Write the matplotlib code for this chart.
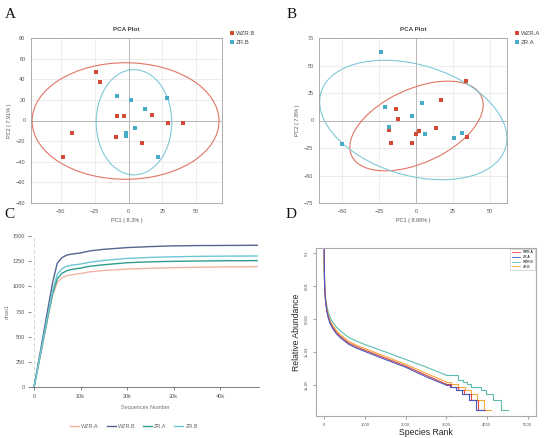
import matplotlib
matplotlib.use("Agg")
import matplotlib.pyplot as plt
from matplotlib.patches import Ellipse
from matplotlib.lines import Line2D

plt.rcParams['font.family'] = ['Liberation Sans', 'DejaVu Sans']

# ---------------- Data ----------------
# Panel A (PCA, group B)
a_wzr_x = [-23.8, -20.8, -41.8, -48.3, -8.7, -3.5, -9.2, 10.1, 17.3, 29.0, 39.9]
a_wzr_y = [47.3, 37.0, -12.6, -35.4, 4.5, 3.9, -16.1, -22.2, 5.8, -2.3, -2.3]
a_zr_x = [-8.2, 1.5, 28.2, 12.4, 4.7, -2.0, -2.0, 21.5]
a_zr_y = [23.5, 20.0, 21.9, 10.9, -7.1, -11.9, -14.8, -35.4]
# ellipse: center x, center y, width, height, angle
a_wzr_ell = [-2.2, -0.5, 138.0, 113.0, 0.0]
a_zr_ell = [4.0, -1.7, 55.8, 102.0, 0.0]

# Panel B (PCA, group A)
b_wzr_x = [34.0, 16.7, -13.7, -12.2, -18.5, -17.1, -2.7, 0.2, 2.3, 13.3, 34.5]
b_wzr_y = [36.3, 18.3, 10.4, 1.7, -8.9, -20.1, -20.1, -12.2, -9.8, -6.5, -14.9]
b_zr_x = [-23.4, -21.2, 4.3, -2.9, -18.5, 6.1, 25.7, 31.3, -50.0]
b_zr_y = [62.6, 12.2, 15.8, 4.1, -5.9, -12.2, -15.8, -11.6, -21.3]
b_wzr_ell = [0.35, -5.0, 104.5, 62.0, 39.0]
b_zr_ell = [-1.8, 0.45, 136.4, 95.9, -31.7]

# Panel C (rarefaction, chao1)
c_seq = [0, 1000, 2000, 3000, 4000, 5000, 6000, 7000, 8000, 10000, 12000,
         15000, 20000, 25000, 30000, 35000, 40000, 48000]
c_wzr_a = [0, 230, 460, 690, 910, 1040, 1085, 1105, 1115, 1128, 1145, 1158,
           1172, 1180, 1186, 1190, 1193, 1196]
c_wzr_b = [0, 260, 520, 780, 1040, 1230, 1285, 1310, 1320, 1332, 1352, 1368,
           1385, 1395, 1402, 1405, 1406, 1408]
c_zr_a = [0, 235, 470, 705, 930, 1075, 1130, 1155, 1168, 1182, 1200, 1215,
          1235, 1244, 1249, 1252, 1254, 1256]
c_zr_b = [0, 240, 480, 720, 960, 1120, 1175, 1200, 1210, 1222, 1240, 1258,
          1278, 1288, 1294, 1298, 1300, 1302]

# Panel D (rank abundance)
d_rank = [1, 5, 10, 20, 40, 70, 100, 150, 200, 300, 400, 600, 800, 1000,
          1500, 2000, 2500, 3000]
d_wzr_a = [0.141, 0.0316, 0.0141, 0.0063, 0.00316, 0.00178, 0.0012, 7.9e-4,
           6.0e-4, 4.0e-4, 3.0e-4, 1.9e-4, 1.45e-4, 1.15e-4, 6.6e-5, 3.8e-5,
           2.0e-5, 1.07e-5]
d_zr_a = [0.141, 0.0316, 0.0141, 0.0060, 0.00295, 0.00166, 0.0011, 7.2e-4,
          5.5e-4, 3.6e-4, 2.75e-4, 1.74e-4, 1.32e-4, 1.05e-4, 6.0e-5, 3.5e-5,
          1.8e-5, 1.0e-5]
d_wzr_b = [0.112, 0.0316, 0.0158, 0.0076, 0.00398, 0.0024, 0.00166, 0.00112,
           8.5e-4, 5.75e-4, 4.4e-4, 2.8e-4, 2.14e-4, 1.7e-4, 1.02e-4, 6.0e-5,
           3.55e-5, 2.0e-5]
d_zr_b = [0.126, 0.0316, 0.0151, 0.0068, 0.00347, 0.0020, 0.00132, 8.9e-4,
          6.8e-4, 4.5e-4, 3.4e-4, 2.14e-4, 1.62e-4, 1.29e-4, 7.4e-5, 4.3e-5,
          2.3e-5, 1.26e-5]
# tail staircases: rank where each level starts, and level
d_wzr_a_tail_r = [3000, 3130, 3280, 3440, 3600, 3780, 3960]
d_wzr_a_tail_v = [1.04e-5, 8.7e-6, 7.0e-6, 5.2e-6, 3.5e-6, 1.74e-6, 1.74e-6]
d_zr_a_tail_r = [3000, 3100, 3250, 3400, 3560, 3740, 3920]
d_zr_a_tail_v = [1.0e-5, 8.7e-6, 7.0e-6, 5.2e-6, 3.5e-6, 1.74e-6, 1.74e-6]
d_zr_b_tail_r = [3000, 3120, 3290, 3450, 3600, 3760, 3920, 4100]
d_zr_b_tail_v = [1.22e-5, 1.04e-5, 8.7e-6, 7.0e-6, 5.2e-6, 3.5e-6, 1.74e-6, 1.74e-6]
d_wzr_b_tail_r = [3000, 3300, 3420, 3500, 3600, 3720, 3850, 3990, 4150, 4340, 4530]
d_wzr_b_tail_v = [2.0e-5, 1.39e-5, 1.22e-5, 1.04e-5, 8.7e-6, 8.7e-6, 7.0e-6,
                  5.2e-6, 3.5e-6, 1.74e-6, 1.74e-6]

# ---------------- Styles ----------------
RED = '#d24a33'
BLUE = '#47adc6'
RED_E = '#e07565'
BLUE_E = '#80c9d8'
GRID = '#e6e6e6'
ZERO = '#b0b0b0'
FRAME = '#a0a0a0'

fig = plt.figure(figsize=(5.5, 4.38), dpi=100)
W, H = 550.0, 438.0


def ax_px(l, r, t, b):
    return fig.add_axes([l / W, 1 - b / H, (r - l) / W, (b - t) / H])


def pca_panel(ax, wx, wy, zx, zy, we, ze, xlim, ylim, xt, yt, xl, yl, names):
    ax.set_xlim(*xlim)
    ax.set_ylim(*ylim)
    ax.set_xticks(xt)
    ax.set_yticks(yt)
    ax.grid(True, color=GRID, lw=0.5)
    ax.set_axisbelow(True)
    ax.axhline(0, color=ZERO, lw=0.6, zorder=1)
    ax.axvline(0, color=ZERO, lw=0.6, zorder=1)
    for s in ax.spines.values():
        s.set_color(FRAME)
        s.set_linewidth(0.6)
    ax.tick_params(length=0, labelsize=4, colors='#555555', pad=4)
    ax.add_patch(Ellipse((we[0], we[1]), we[2], we[3], angle=we[4],
                         fill=False, ec=RED_E, lw=0.8, zorder=2))
    ax.add_patch(Ellipse((ze[0], ze[1]), ze[2], ze[3], angle=ze[4],
                         fill=False, ec=BLUE_E, lw=0.8, zorder=2))
    ax.plot(wx, wy, 's', color=RED, ms=2.6, mew=0, zorder=3)
    ax.plot(zx, zy, 's', color=BLUE, ms=2.6, mew=0, zorder=3)
    ax.set_title('PCA Plot', fontsize=4.5, fontweight='bold', color='#444444', pad=5)
    ax.set_xlabel(xl, fontsize=4, color='#555555', labelpad=3)
    ax.set_ylabel(yl, fontsize=4, color='#555555', labelpad=3)
    h = [Line2D([], [], ls='', marker='s', color=RED, ms=2.6, mew=0),
         Line2D([], [], ls='', marker='s', color=BLUE, ms=2.6, mew=0)]
    ax.legend(h, names, loc='upper left', bbox_to_anchor=(1.02, 1.06),
              frameon=False, fontsize=4.3, handletextpad=0.2, borderpad=0,
              labelspacing=0.6, handlelength=1.0, labelcolor='#444444')


# Panel A
axA = ax_px(31, 222, 38, 203)
pca_panel(axA, a_wzr_x, a_wzr_y, a_zr_x, a_zr_y, a_wzr_ell, a_zr_ell,
          (-72, 69), (-80, 80), [-50, -25, 0, 25, 50], list(range(-80, 81, 20)),
          'PC1 ( 8.3% )', 'PC2 ( 7.91% )', ['WZR.B', 'ZR.B'])

# Panel B
axB = ax_px(319, 507, 38, 203)
pca_panel(axB, b_wzr_x, b_wzr_y, b_zr_x, b_zr_y, b_wzr_ell, b_zr_ell,
          (-65.5, 61.5), (-75, 75), [-50, -25, 0, 25, 50], list(range(-75, 76, 25)),
          'PC1 ( 8.69% )', 'PC2 ( 7.8% )', ['WZR.A', 'ZR.A'])

# Panel C
axC = ax_px(31.2, 258.7, 236, 387.3)
c_cols = {'WZR.A': '#f3b5a3', 'WZR.B': '#56658f', 'ZR.A': '#2f9c8c', 'ZR.B': '#6cc7d2'}
for name, vals in [('WZR.A', c_wzr_a), ('WZR.B', c_wzr_b), ('ZR.A', c_zr_a), ('ZR.B', c_zr_b)]:
    axC.plot(c_seq, vals, color=c_cols[name], lw=1.0, label=name)
axC.set_xlim(-600, 48300)
axC.set_ylim(0, 1500)
axC.set_xticks([0, 10000, 20000, 30000, 40000])
axC.set_xticklabels(['0', '10k', '20k', '30k', '40k'])
axC.set_yticks(list(range(0, 1501, 250)))
axC.axvline(0, color='#cccccc', lw=0.6, ls=(0, (4, 3)), zorder=0)
for s in ['top', 'right', 'left']:
    axC.spines[s].set_visible(False)
axC.spines['bottom'].set_color('#666666')
axC.spines['bottom'].set_linewidth(0.6)
axC.tick_params(labelsize=4, colors='#555555', length=2.5, width=0.5, pad=2)
axC.set_xlabel('Sequences Number', fontsize=4, color='#777777', labelpad=5)
axC.set_ylabel('chao1', fontsize=4, color='#777777', labelpad=2)
fig.legend(*axC.get_legend_handles_labels(), loc='center', ncol=4,
           bbox_to_anchor=(134 / W, 1 - 426.7 / H), frameon=False, fontsize=4,
           handlelength=1.6, handletextpad=0.4, columnspacing=1.4,
           labelcolor='#666666')

# Panel D
axD = ax_px(316, 535.7, 247.7, 416)
d_cols = {'WZR.A': '#e2473b', 'ZR.A': '#4657c0', 'WZR.B': '#5cbfb2', 'ZR.B': '#f4a83c'}
series = [('WZR.B', d_wzr_b, d_wzr_b_tail_r, d_wzr_b_tail_v),
          ('ZR.B', d_zr_b, d_zr_b_tail_r, d_zr_b_tail_v),
          ('WZR.A', d_wzr_a, d_wzr_a_tail_r, d_wzr_a_tail_v),
          ('ZR.A', d_zr_a, d_zr_a_tail_r, d_zr_a_tail_v)]
for name, vals, tr, tv in series:
    axD.plot(d_rank, vals, color=d_cols[name], lw=0.8)
    axD.step(tr, tv, where='post', color=d_cols[name], lw=0.8)
axD.set_yscale('log')
axD.set_xlim(-200, 5200)
axD.set_ylim(1.15e-6, 0.148)
axD.set_xticks([0, 1000, 2000, 3000, 4000, 5000])
axD.set_xticklabels(['0', '1000', '2000', '3000', '4000', '5000'])
axD.set_yticks([0.1, 0.01, 0.001, 1e-4, 1e-5])
axD.set_yticklabels(['0.1', '0.01', '0.001', '1e-04', '1e-05'], rotation=90, va='center')
axD.minorticks_off()
for s in axD.spines.values():
    s.set_color('#aaaaaa')
    s.set_linewidth(0.8)
axD.tick_params(labelsize=3, colors='#555555', length=2, width=0.4, pad=3)
axD.set_xlabel('Species Rank', fontsize=6.2, color='#222222', labelpad=1)
axD.set_ylabel('Relative Abundance', fontsize=6.2, color='#222222', labelpad=3)
dh = [Line2D([], [], color=d_cols[n], lw=0.6) for n in ['WZR.A', 'ZR.A', 'WZR.B', 'ZR.B']]
axD.legend(dh, ['WZR.A', 'ZR.A', 'WZR.B', 'ZR.B'], loc='upper right',
           fontsize=2.4, frameon=True, fancybox=False, edgecolor='#aaaaaa',
           borderpad=0.4, handlelength=2.5, labelspacing=0.25,
           borderaxespad=0.3).get_frame().set_linewidth(0.4)

# Panel letters
for lab, x, y in [('A', 10, 15), ('B', 292, 15), ('C', 9, 214), ('D', 291, 214)]:
    fig.text(x / W, 1 - y / H, lab, fontsize=11, family='Liberation Serif',
             ha='center', va='center', color='#111111')

fig.savefig('out.png', dpi=100)
